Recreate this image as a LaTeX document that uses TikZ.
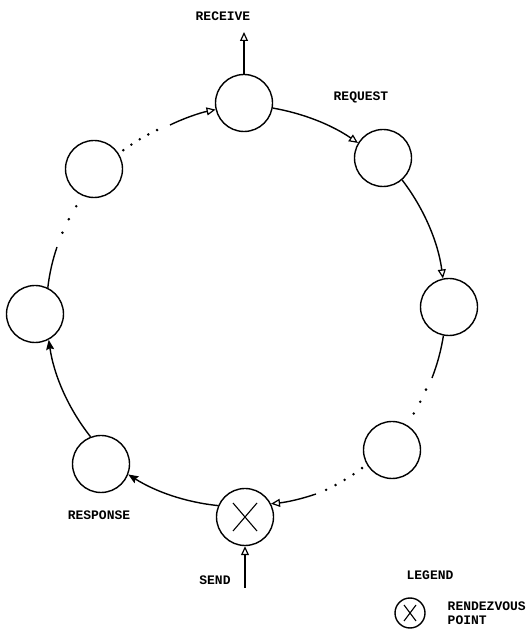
\documentclass[tikz,border=0pt]{standalone}
\usepackage{fontspec}
\newfontfamily\lblfont{Liberation Mono}
\usetikzlibrary{arrows.meta,calc}
\begin{document}
\begin{tikzpicture}[x=1pt,y=1pt,
  line width=1.4pt,
  station/.style={circle,draw,minimum size=57pt,inner sep=0pt},
  rendez/.style={station,path picture={
      \draw[line width=1.1pt] ($(path picture bounding box.center)+(-12,-14)$) -- ($(path picture bounding box.center)+(12,14)$);
      \draw[line width=1.1pt] ($(path picture bounding box.center)+(-12,14)$) -- ($(path picture bounding box.center)+(12,-14)$);}},
  legcirc/.style={circle,draw,minimum size=30pt,inner sep=0pt,path picture={
      \draw[line width=1.1pt] ($(path picture bounding box.center)+(-6,-8)$) -- ($(path picture bounding box.center)+(6,8)$);
      \draw[line width=1.1pt] ($(path picture bounding box.center)+(-6,8)$) -- ($(path picture bounding box.center)+(6,-8)$);}},
  lbl/.style={font=\lblfont\bfseries\fontsize{13}{13}\selectfont,inner sep=0pt},
  openarr/.style={-{Triangle[open,length=9pt,width=8pt,line width=1.2pt]}},
  fillarr/.style={-{Stealth[length=10pt,width=8pt,inset=1.5pt]}},
  arcline/.style={looseness=0.87},
  dots/.style={line width=2.8pt,line cap=round}
]
\useasboundingbox (0,0) rectangle (531,637);
\coordinate (C) at (242,327);
% stations
\node[station] (top) at (244,534) {};
\node[station] (ur)  at (383,479) {};
\node[station] (rt)  at (449,330) {};
\node[station] (lr)  at (392,187) {};
\node[rendez]  (x)   at (245,120) {};
\node[station] (ll)  at (101,173) {};
\node[station] (lt)  at (35,323) {};
\node[station] (ul)  at (94,468) {};
% transition points (solid/dotted)
\coordinate (s1) at (432,259);
\coordinate (s2) at (316,143);
\coordinate (s3) at (57,390);
\coordinate (s4) at (170,512);
\coordinate (d1) at ($(C)+(-23.4:200.5)$);
\coordinate (d2) at ($(C)+(-52.8:198.5)$);
\coordinate (d3) at ($(C)+(156.7:195.5)$);
\coordinate (d4) at ($(C)+(126.6:199)$);
% solid arcs
\draw[openarr,arcline] (s4) to[bend left=6.8] (top.193);
\draw[openarr,arcline] (top.-10) to[bend left=12.4] (ur.149);
\draw[openarr,arcline] (ur.-49) to[bend left=15] (rt.102);
\draw[arcline] (rt.-101) to[bend left=6] (s1);
\draw[openarr,arcline] (s2) to[bend left=6.6] (x.27);
\draw[fillarr,arcline] (x.157) to[bend left=13.3] (ll.-21);
\draw[fillarr,arcline] (ll.111) to[bend left=15] (lt.-62);
\draw[arcline] (lt.64) to[bend left=6] (s3);
% dotted parts
\draw[dots,dash pattern=on 0pt off 13.4pt] (d1) arc[start angle=-23.4,end angle=-31.1,radius=200.5];
\draw[dots,dash pattern=on 0pt off 10.5pt] (d2) arc[start angle=-52.8,end angle=-65,radius=198.5];
\draw[dots,dash pattern=on 0pt off 14.9pt] (d3) arc[start angle=156.7,end angle=147.9,radius=195.5];
\draw[dots,dash pattern=on 0pt off 9.85pt] (d4) arc[start angle=126.6,end angle=115.2,radius=199];
% receive / send
\coordinate (recv) at (244,605);
\coordinate (send) at (245,49);
\draw[openarr] (top) -- (recv);
\draw[openarr] (send) -- (x);
% labels
\node[lbl] (lrecv) at (223,621) {RECEIVE};
\node[lbl] (lreq) at (361,540) {REQUEST};
\node[lbl] (lresp) at (99,122) {RESPONSE};
\node[lbl] (lsend) at (215,57) {SEND};
% legend
\node[lbl] (lleg) at (430,62) {LEGEND};
\node[legcirc] (legc) at (410,24) {};
\node[lbl,anchor=west] (lrv) at (447,31) {RENDEZVOUS};
\node[lbl,anchor=west] (lpt) at (447,17) {POINT};
\end{tikzpicture}
\end{document}
